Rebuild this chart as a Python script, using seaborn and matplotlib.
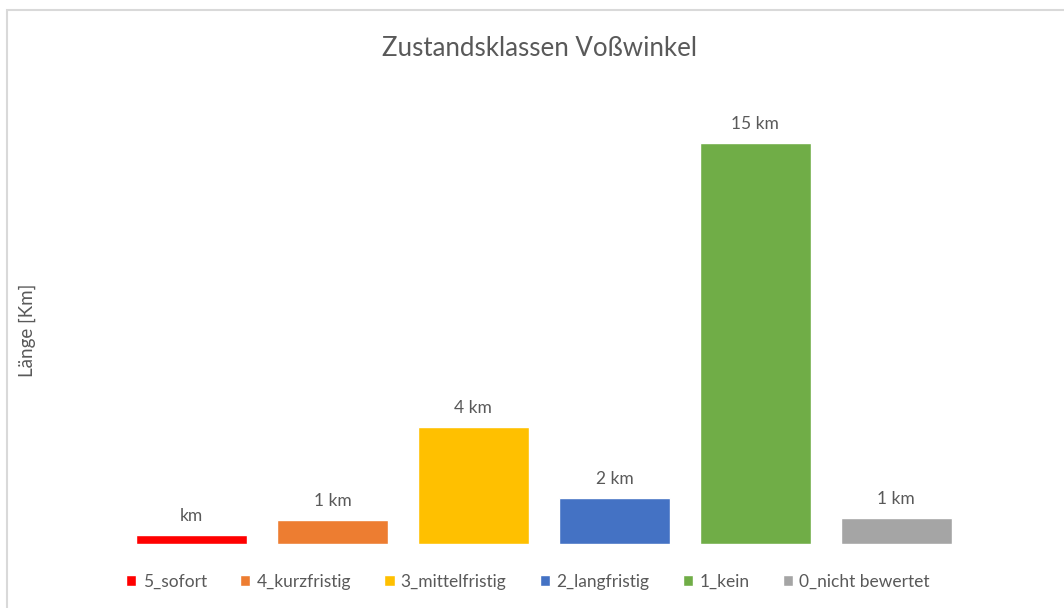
import matplotlib
matplotlib.use("Agg")
import matplotlib.pyplot as plt
import seaborn as sns
import pandas as pd
from matplotlib.patches import Rectangle

# Zustandsklassen und Längen in km
classes = ["5_sofort", "4_kurzfristig", "3_mittelfristig", "2_langfristig", "1_kein", "0_nicht bewertet"]
lengths_km = [0.34, 0.9, 4.37, 1.72, 15.0, 0.97]
colors = ["#FF0000", "#ED7D31", "#FFC000", "#4472C4", "#70AD47", "#A5A5A5"]

sns.set_theme(style="white")
plt.rcParams["font.family"] = ["Lato", "DejaVu Sans"]
text_color = "#595959"

df = pd.DataFrame({"klasse": classes, "laenge": lengths_km})

fig = plt.figure(figsize=(10.64, 6.08), dpi=100)
ax = fig.add_axes([0.1137, 0.1053, 0.795, 0.704])

sns.barplot(data=df, x="klasse", y="laenge", hue="klasse", palette=colors,
            width=0.79, dodge=False, legend=True, ax=ax, saturation=1)

ax.set_ylim(0, 16)
ax.set_xlim(-0.5, len(classes) - 0.5)
ax.set_xticks([])
ax.set_yticks([])
ax.set_xlabel("")
ax.set_ylabel("Länge [Km]", fontsize=13.5, color=text_color)
ax.yaxis.set_label_coords(-0.100, 0.5)
for s in ax.spines.values():
    s.set_visible(False)

# Datenbeschriftung im Excel-Format '# "km"'
for p, v in zip(ax.patches, lengths_km):
    n = round(v)
    label = f"{n} km" if n != 0 else "km"
    ax.annotate(label, (p.get_x() + p.get_width() / 2., p.get_height()),
                ha="center", va="bottom", xytext=(0, 8), textcoords="offset points",
                fontsize=12.5, color=text_color)

sns.move_legend(ax, "upper center", bbox_to_anchor=(0.481, -0.033), ncol=6,
                frameon=False, title=None, fontsize=12.5, handlelength=0.6,
                handleheight=0.6, handletextpad=0.35, columnspacing=1.92,
                labelcolor=text_color)

fig.text(0.507, 0.921, "Zustandsklassen Voßwinkel", ha="center", va="center",
         fontsize=18.6, color=text_color)

# Rahmen des Diagrammbereichs
fig.patches.append(Rectangle((7 / 1064, -0.1), 1.2, (608 - 10) / 608 + 0.1,
                             transform=fig.transFigure, fill=False,
                             edgecolor="#D9D9D9", linewidth=1.5))

fig.savefig("out.png", dpi=100)
